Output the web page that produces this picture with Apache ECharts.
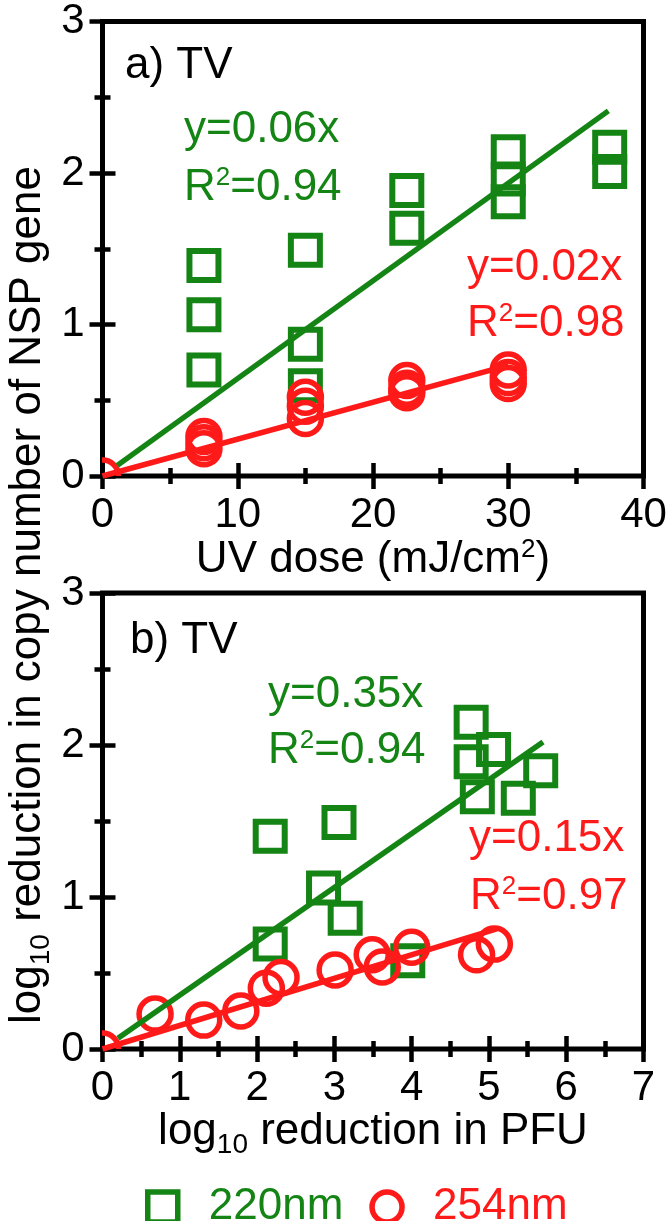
<!DOCTYPE html>
<html><head><meta charset="utf-8">
<script src="https://cdn.jsdelivr.net/npm/echarts@6/dist/echarts.min.js"></script>
<style>html,body{margin:0;padding:0;background:#fff}#c{width:666px;height:1221px}</style>
</head><body><div id="c"></div>
<script>
// ---- data: panel a) UV dose vs log10 reduction in copy number ----
const doseA220 = [7.5, 7.5, 7.5, 15, 15, 15, 22.5, 22.5, 30, 30, 30, 37.5, 37.5];
const redA220  = [1.39, 1.065, 0.70, 1.49, 0.87, 0.595, 1.885, 1.635, 2.14, 1.96, 1.81, 2.17, 2.01];
const doseA254 = [0, 7.5, 7.5, 7.5, 15, 15, 15, 22.5, 22.5, 22.5, 30, 30, 30];
const redA254  = [0.0, 0.26, 0.22, 0.18, 0.52, 0.46, 0.38, 0.63, 0.58, 0.55, 0.70, 0.65, 0.61];
const fitA220X = [1.1, 37.4];
const fitA220Y = [0.07, 2.41];
const fitA254X = [0, 30];
const fitA254Y = [0, 0.73];
// ---- data: panel b) log10 reduction in PFU vs log10 reduction in copy number ----
const pfuB220 = [2.17, 3.06, 2.86, 3.14, 2.17, 3.95, 4.77, 5.06, 4.77, 4.85, 5.38, 5.67];
const redB220 = [1.40, 1.49, 1.06, 0.86, 0.69, 0.58, 2.15, 1.97, 1.89, 1.66, 1.65, 1.83];
const pfuB254 = [0, 0.68, 1.31, 1.79, 2.12, 2.31, 3.01, 3.49, 3.62, 4.0, 4.84, 5.07];
const redB254 = [0.0, 0.23, 0.19, 0.25, 0.40, 0.47, 0.52, 0.62, 0.54, 0.67, 0.62, 0.69];
const fitB220X = [0.2, 5.7];
const fitB220Y = [0.07, 2.02];
const fitB254X = [0, 5.1];
const fitB254Y = [0, 0.79];
// ---- ticks / labels ----
const xTicksA = [0, 10, 20, 30, 40];
const xTicksB = [0, 1, 2, 3, 4, 5, 6, 7];
const yTicks = [0, 1, 2, 3];
const seriesNames = ['220nm', '254nm'];
const annA = ['a) TV', 'y=0.06x', 'R{sup|2}=0.94', 'y=0.02x', 'R{sup|2}=0.98'];
const annB = ['b) TV', 'y=0.35x', 'R{sup|2}=0.94', 'y=0.15x', 'R{sup|2}=0.97'];

const GREEN = '#148414', RED = '#ff1a1a', BLACK = '#000';
const FONT = '"Liberation Sans", Arial, Helvetica, sans-serif';

const zip = (xs, ys) => xs.map((x, i) => [x, ys[i]]);

function squareItem(params, api) {
  const p = api.coord([api.value(0), api.value(1)]);
  return {type: 'rect', shape: {x: p[0] - 14.5, y: p[1] - 14.5, width: 29, height: 29},
          style: {fill: 'none', stroke: GREEN, lineWidth: 6}};
}
function circleItem(params, api) {
  const p = api.coord([api.value(0), api.value(1)]);
  return {type: 'circle', shape: {cx: p[0], cy: p[1], r: 16},
          style: {fill: 'none', stroke: RED, lineWidth: 5.5}};
}

const tickCommon = {
  axisLine: {show: false},
  axisTick: {show: true, inside: true, length: 13, lineStyle: {color: BLACK, width: 4.5}},
  minorTick: {show: true, splitNumber: 2, length: 8, lineStyle: {color: BLACK, width: 4.5}},
  splitLine: {show: false}, minorSplitLine: {show: false}
};
const labelStyle = {show: true, color: BLACK, fontSize: 42, fontFamily: FONT, margin: 18};

function xAx(grid, ticks, pos, name, nameGap, rich) {
  const a = Object.assign({}, tickCommon, {
    type: 'value', gridIndex: grid, position: pos,
    min: ticks[0], max: ticks[ticks.length - 1], interval: ticks[1] - ticks[0],
    axisLabel: pos === 'bottom' ? labelStyle : {show: false}
  });
  if (name) {
    a.name = name; a.nameLocation = 'middle'; a.nameGap = nameGap;
    a.nameTextStyle = {color: BLACK, fontSize: 44, fontFamily: FONT, rich: rich};
  }
  return a;
}
function yAx(grid, pos) {
  return Object.assign({}, tickCommon, {
    type: 'value', gridIndex: grid, position: pos,
    min: yTicks[0], max: yTicks[yTicks.length - 1], interval: yTicks[1] - yTicks[0],
    axisLabel: pos === 'left' ? labelStyle : {show: false}
  });
}

const supRich = {sup: {fontSize: 26, fontFamily: FONT, verticalAlign: 'top', padding: [0, 0, 20, 0]}};
const subRich = {sub: {fontSize: 28, fontFamily: FONT, verticalAlign: 'bottom', padding: [26, 0, 0, 0]}};

function ann(text, x, y, color) {
  return {type: 'text', x: x, y: y, silent: true,
    style: {text: text, fill: color, fontSize: 44, fontFamily: FONT, align: 'left', verticalAlign: 'middle',
            rich: {sup: {fontSize: 26, fontFamily: FONT, fill: color, verticalAlign: 'top', padding: [0, 0, 20, 0]}}}};
}

const option = {
  backgroundColor: '#fff',
  animation: false,
  grid: [
    {left: 102.5, top: 21.5, width: 541, height: 454.5, show: true, borderColor: BLACK, borderWidth: 5,
     backgroundColor: 'transparent', containLabel: false, outerBoundsMode: 'none'},
    {left: 102.5, top: 593, width: 541, height: 456, show: true, borderColor: BLACK, borderWidth: 5,
     backgroundColor: 'transparent', containLabel: false, outerBoundsMode: 'none'}
  ],
  xAxis: [
    xAx(0, xTicksA, 'bottom', 'UV dose (mJ/cm{sup|2})', 56, supRich),
    xAx(0, xTicksA, 'top'),
    xAx(1, xTicksB, 'bottom', 'log{sub|10} reduction in PFU', 48, subRich),
    xAx(1, xTicksB, 'top')
  ],
  yAxis: [yAx(0, 'left'), yAx(0, 'right'), yAx(1, 'left'), yAx(1, 'right')],
  legend: {
    top: 1180, left: 140, itemWidth: 30, itemHeight: 30, itemGap: 26,
    textStyle: {fontSize: 44, fontFamily: FONT, padding: [0, 0, 0, 26]},
    selectedMode: false,
    data: [
      {name: seriesNames[0], icon: 'rect', itemStyle: {color: '#fff', borderColor: GREEN, borderWidth: 5.5}, textStyle: {color: GREEN}},
      {name: seriesNames[1], icon: 'circle', itemStyle: {color: '#fff', borderColor: RED, borderWidth: 5.5}, textStyle: {color: RED}}
    ]
  },
  graphic: [
    {type: 'text', x: 28, y: 595, rotation: Math.PI / 2, silent: true,
     style: {text: 'log{sub|10} reduction in copy number of NSP gene', fill: BLACK, fontSize: 44, fontFamily: FONT,
             align: 'center', verticalAlign: 'middle', rich: subRich}},
    ann(annA[0], 125, 66, BLACK),
    ann(annA[1], 184, 130, GREEN),
    ann(annA[2], 184, 188, GREEN),
    ann(annA[3], 467, 268, RED),
    ann(annA[4], 467, 324, RED),
    ann(annB[0], 130, 641, BLACK),
    ann(annB[1], 268, 695, GREEN),
    ann(annB[2], 268, 751, GREEN),
    ann(annB[3], 469, 839, RED),
    ann(annB[4], 470, 897, RED)
  ],
  series: [
    {name: seriesNames[0], type: 'custom', xAxisIndex: 0, yAxisIndex: 0, clip: true, renderItem: squareItem,
     itemStyle: {color: GREEN}, data: zip(doseA220, redA220)},
    {name: 'fitA220', type: 'line', xAxisIndex: 0, yAxisIndex: 0, symbol: 'none', silent: true,
     lineStyle: {color: GREEN, width: 5.5}, data: zip(fitA220X, fitA220Y)},
    {name: seriesNames[1], type: 'custom', xAxisIndex: 0, yAxisIndex: 0, clip: true, renderItem: circleItem,
     itemStyle: {color: RED}, data: zip(doseA254, redA254)},
    {name: 'fitA254', type: 'line', xAxisIndex: 0, yAxisIndex: 0, symbol: 'none', silent: true,
     lineStyle: {color: RED, width: 5.5}, data: zip(fitA254X, fitA254Y)},

    {name: seriesNames[0], type: 'custom', xAxisIndex: 2, yAxisIndex: 2, clip: true, renderItem: squareItem,
     itemStyle: {color: GREEN}, data: zip(pfuB220, redB220)},
    {name: 'fitB220', type: 'line', xAxisIndex: 2, yAxisIndex: 2, symbol: 'none', silent: true,
     lineStyle: {color: GREEN, width: 5.5}, data: zip(fitB220X, fitB220Y)},
    {name: seriesNames[1], type: 'custom', xAxisIndex: 2, yAxisIndex: 2, clip: true, renderItem: circleItem,
     itemStyle: {color: RED}, data: zip(pfuB254, redB254)},
    {name: 'fitB254', type: 'line', xAxisIndex: 2, yAxisIndex: 2, symbol: 'none', silent: true,
     lineStyle: {color: RED, width: 5.5}, data: zip(fitB254X, fitB254Y)}
  ]
};

const chart = echarts.init(document.getElementById('c'), null, {renderer: 'canvas'});
chart.setOption(option);
</script>
</body></html>
